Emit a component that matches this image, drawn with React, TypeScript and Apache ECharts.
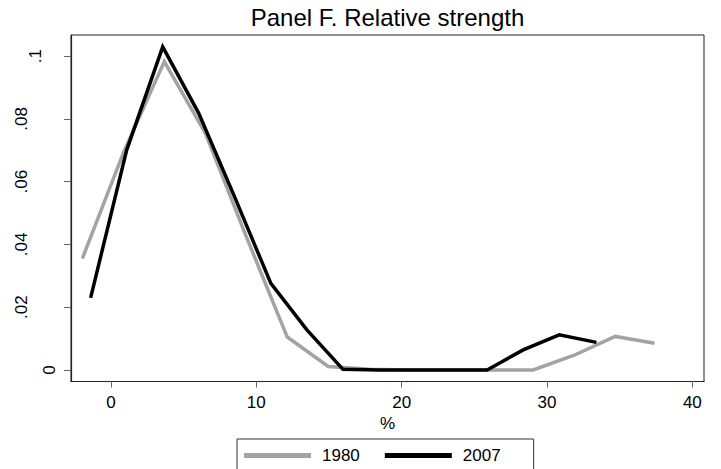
import React, { useEffect, useRef } from "react";
import * as echarts from "echarts";

// ---- data ----
const seriesNames = ["1980", "2007"];
const x1980 = [-1.97, 0.85, 3.67, 6.49, 9.31, 12.13, 14.95, 17.77, 20.59, 23.41, 26.23, 29.05, 31.87, 34.69, 37.4];
const y1980 = [0.0355, 0.0692, 0.0983, 0.0755, 0.0425, 0.0105, 0.0011, 0.0002, 0, 0, 0, 0, 0.0047, 0.0107, 0.0085];
const x2007 = [-1.4, 1.08, 3.56, 6.04, 8.52, 11.0, 13.48, 15.96, 18.44, 20.92, 23.4, 25.88, 28.36, 30.84, 33.4];
const y2007 = [0.023, 0.0701, 0.103, 0.0818, 0.055, 0.0276, 0.0128, 0.0002, 0, 0, 0, 0, 0.0064, 0.0112, 0.0088];
const xTicks = [0, 10, 20, 30, 40];
const yTicks = [0, 0.02, 0.04, 0.06, 0.08, 0.1];
const yLabelsZero = [0];
const yLabelsTop = [0.1];
const yLabelsMid = [0.02, 0.04, 0.06, 0.08];
const titleText = "Panel F. Relative strength";
const xName = "%";

const FONT = "'Liberation Sans', Arial, Helvetica, sans-serif";
const X_MIN = -2.75;
const X_MAX = 40.8;
const Y_MIN = -0.00367;
const Y_MAX = 0.10677;

function fmtY(v: number): string {
  if (v === 0) return "0";
  return String(+v.toFixed(2)).replace(/^0/, "");
}

function makeYAxis(labels: number[], margin: number, main: boolean) {
  return {
    type: "value",
    position: "left",
    min: Y_MIN,
    max: Y_MAX,
    splitLine: { show: false },
    axisLine: { show: main, onZero: false, lineStyle: { color: "#222", width: 1.2 } },
    axisTick: {
      show: main,
      length: 7,
      customValues: yTicks,
      lineStyle: { color: "#666", width: 1 },
    },
    axisLabel: {
      show: true,
      customValues: labels,
      rotate: 90,
      margin,
      fontSize: 17,
      color: "#000",
      fontFamily: FONT,
      formatter: (v: number) => fmtY(v),
    },
  };
}

export default function App() {
  const ref = useRef<HTMLDivElement>(null);
  useEffect(() => {
    if (!ref.current) return;
    const chart = echarts.init(ref.current, null, { renderer: "svg" });
    const colors = ["#a3a3a3", "#000000"];
    const xs = [x1980, x2007];
    const ys = [y1980, y2007];
    chart.setOption({
      animation: false,
      backgroundColor: "#fff",
      textStyle: { fontFamily: FONT },
      title: {
        text: titleText,
        left: 387.5,
        textAlign: "center",
        top: 5,
        padding: 0,
        textStyle: { fontSize: 24, fontWeight: "normal", color: "#000", fontFamily: FONT },
      },
      grid: {
        left: 71,
        right: 17,
        top: 35,
        bottom: 87.5,
        show: true,
        borderColor: "#222",
        borderWidth: 1,
        backgroundColor: "#fff",
        containLabel: false,
        outerBoundsMode: "none",
      },
      legend: {
        data: seriesNames,
        left: 237,
        top: 439,
        orient: "horizontal",
        icon: "rect",
        itemWidth: 67,
        itemHeight: 5,
        itemGap: 25,
        padding: [8, 33, 14, 7],
        borderColor: "#333",
        borderWidth: 1,
        selectedMode: false,
        textStyle: { fontSize: 17, color: "#000", fontFamily: FONT, padding: [0, 0, 0, 6] },
      },
      xAxis: {
        type: "value",
        min: X_MIN,
        max: X_MAX,
        name: xName,
        nameLocation: "middle",
        nameGap: 30,
        nameTextStyle: { fontSize: 17, color: "#000", fontFamily: FONT },
        splitLine: { show: false },
        axisLine: { onZero: false, lineStyle: { color: "#222", width: 1.2 } },
        axisTick: { length: 6, customValues: xTicks, lineStyle: { color: "#666", width: 1 } },
        axisLabel: {
          customValues: xTicks,
          margin: 12,
          fontSize: 17,
          color: "#000",
          fontFamily: FONT,
        },
      },
      yAxis: [
        makeYAxis(yLabelsZero, 13, true),
        makeYAxis(yLabelsTop, 27, false),
        makeYAxis(yLabelsMid, 41, false),
      ],
      series: seriesNames.map((name, i) => ({
        name,
        type: "line",
        xAxisIndex: 0,
        yAxisIndex: 0,
        showSymbol: false,
        symbol: "none",
        silent: true,
        data: xs[i].map((x, j) => [x, ys[i][j]]),
        lineStyle: { color: colors[i], width: 3.5, join: "miter" },
        itemStyle: { color: colors[i] },
        z: 2 + i,
      })),
    });
    return () => chart.dispose();
  }, []);
  return (
    <div
      ref={ref}
      style={{ position: "fixed", left: 0, top: 0, width: 721, height: 469, background: "#fff" }}
    />
  );
}
